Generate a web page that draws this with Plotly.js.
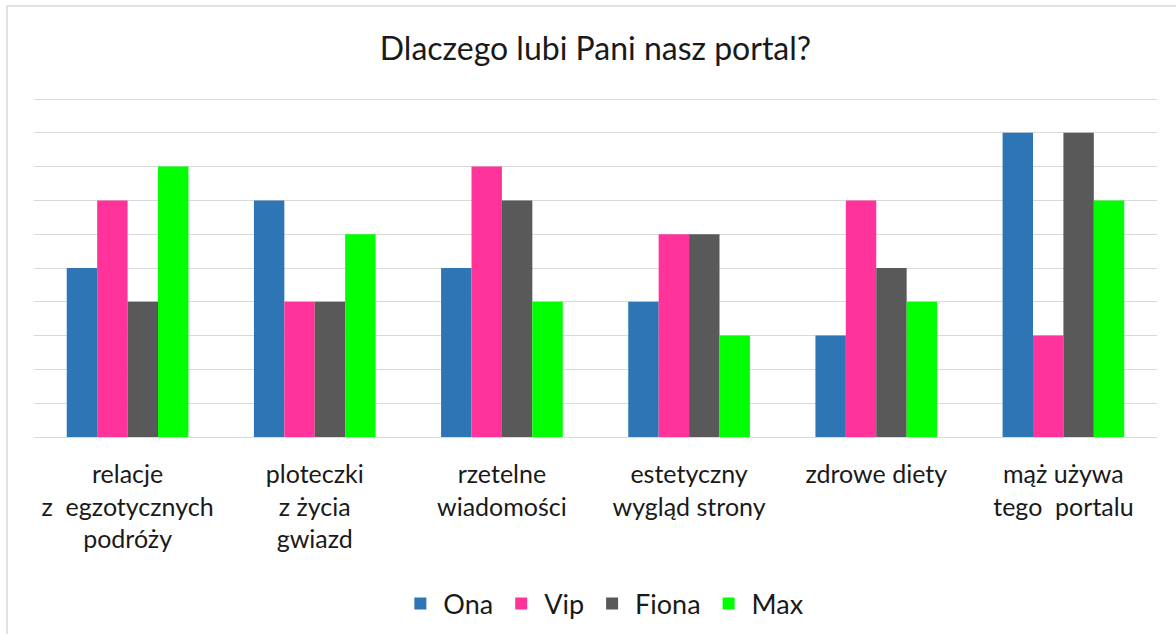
<!DOCTYPE html>
<html>
<head>
<meta charset="utf-8">
<script src="https://cdn.plot.ly/plotly-3.0.1.min.js"></script>
<style>html,body{margin:0;padding:0;background:#fff;}#chart{width:1176px;height:634px;}</style>
</head>
<body>
<div id="chart"></div>
<script>
const categories = [
  "relacje<br>z\u00A0 egzotycznych<br>podróży",
  "ploteczki<br>z życia<br>gwiazd",
  "rzetelne<br>wiadomości",
  "estetyczny<br>wygląd strony",
  "zdrowe diety",
  "mąż używa<br>tego\u00A0 portalu"
];
const seriesNames = ["Ona", "Vip", "Fiona", "Max"];
const ona   = [5, 7, 5, 4, 3, 9];
const vip   = [7, 4, 8, 6, 7, 3];
const fiona = [4, 4, 7, 6, 5, 9];
const max   = [8, 6, 4, 3, 4, 7];
const colors = ["#2E75B6", "#FF3399", "#595959", "#00FF00"];

const values = [ona, vip, fiona, max];
const traces = values.map((v, i) => ({
  type: "bar",
  name: seriesNames[i],
  x: categories,
  y: v,
  marker: {color: colors[i], line: {width: 0}},
  hoverinfo: "x+y+name"
}));

const font = "Lato, 'Open Sans', sans-serif";
const layout = {
  width: 1176, height: 634,
  paper_bgcolor: "#fff", plot_bgcolor: "#fff",
  margin: {l: 34, r: 19, t: 98, b: 197},
  barmode: "group", bargap: 0.35, bargroupgap: 0,
  title: {text: "Dlaczego lubi Pani nasz portal?", font: {family: font, size: 32, color: "#1a1a1a"},
          x: 0.5, xref: "paper", xanchor: "center", y: 1 - 49/634, yref: "container", yanchor: "middle"},
  xaxis: {type: "category", showgrid: false, showline: true, linecolor: "#D9D9D9", linewidth: 1,
          ticks: "", tickfont: {family: font, size: 25, color: "#1a1a1a"}, ticklabelstandoff: 15,
          tickangle: 0, zeroline: false, fixedrange: true},
  yaxis: {range: [0, 10.03], tick0: 0, dtick: 1, showgrid: true, gridcolor: "#D9D9D9", gridwidth: 1,
          showticklabels: false, zeroline: false, showline: false, ticks: "", fixedrange: true},
  legend: {orientation: "h", x: 0.507, xanchor: "center", y: 1 - 604/634, yref: "container", yanchor: "middle",
           font: {family: font, size: 27, color: "#1a1a1a"}, itemwidth: 36, tracegroupgap: 0},
  shapes: [{type: "rect", xref: "paper", yref: "paper", x0: -27/1123, x1: 1 + 40/1123, y0: -220/339, y1: 1 + 92/339,
            line: {color: "#D9D9D9", width: 1.5}, fillcolor: "rgba(0,0,0,0)", layer: "below"}],
  showlegend: true
};
Plotly.newPlot("chart", traces, layout, {displayModeBar: false, staticPlot: true});
</script>
</body>
</html>
